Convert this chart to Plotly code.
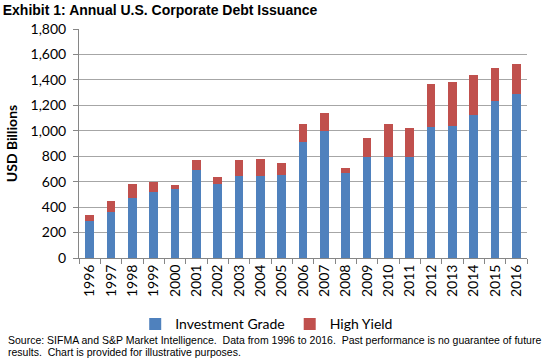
import plotly.graph_objects as go

years = [str(y) for y in range(1996, 2017)]
investment_grade = [290, 360, 473, 520, 541, 693, 578, 641, 643, 649, 911, 995,
                    670, 796, 796, 796, 1029, 1040, 1127, 1232, 1290]
high_yield = [45, 91, 112, 76, 29, 76, 57, 128, 132, 97, 145, 145,
              39, 144, 254, 225, 342, 341, 312, 260, 238]
y_ticks = [0, 200, 400, 600, 800, 1000, 1200, 1400, 1600, 1800]
y_tick_text = ["0", "200", "400", "600", "800", "1,000", "1,200", "1,400", "1,600", "1,800"]

BLUE = "#4F81BD"
RED = "#C0504D"
FONT = "Lato, 'Open Sans', sans-serif"
ARIAL = "'Liberation Sans', Arial, sans-serif"

fig = go.Figure()
fig.add_trace(go.Bar(x=years, y=investment_grade, name="Investment Grade",
                     marker=dict(color=BLUE, line=dict(width=0))))
fig.add_trace(go.Bar(x=years, y=high_yield, name="High Yield",
                     marker=dict(color=RED, line=dict(width=0))))

fig.update_layout(
    width=551, height=364,
    barmode="stack", bargap=0.6,
    paper_bgcolor="white", plot_bgcolor="white",
    margin=dict(l=77, r=24, t=29, b=106),
    font=dict(family=FONT, size=14, color="#000000"),
    title=dict(text="<b>Exhibit 1: Annual U.S. Corporate Debt Issuance</b>",
               x=0.005, xanchor="left", xref="container",
               y=0.972, yanchor="middle", yref="container",
               font=dict(family=ARIAL, size=14, color="#000")),
    showlegend=True,
    legend=dict(orientation="h", x=0.419, xanchor="center", y=-0.29, yanchor="middle",
                font=dict(family=FONT, size=14), itemsizing="constant",
                bgcolor="rgba(0,0,0,0)", traceorder="normal", itemwidth=30),
    xaxis=dict(type="category", tickangle=-90, ticks="outside", tickson="boundaries",
               ticklen=5, tickcolor="#868686", showline=True, linecolor="#868686",
               linewidth=1, showgrid=False, tickfont=dict(family=FONT, size=14)),
    yaxis=dict(range=[0, 1800], tickvals=y_ticks, ticktext=y_tick_text,
               ticks="outside", ticklen=5, tickcolor="#868686", ticklabelstandoff=4,
               showline=True, linecolor="#868686", linewidth=1,
               showgrid=True, gridcolor="#a6a6a6", gridwidth=1, zeroline=False,
               tickfont=dict(family=FONT, size=14),
               title=dict(text="<b>USD Billions</b>", standoff=9,
                          font=dict(family=FONT, size=14))),
    annotations=[
        dict(text="Source: SIFMA and S&P Market Intelligence.  Data from 1996 to 2016.  Past performance is no guarantee of future",
             xref="paper", yref="paper", x=-0.164, y=-0.359, xanchor="left", yanchor="middle",
             align="left", showarrow=False,
             font=dict(family=ARIAL, size=10.5, color="#000")),
        dict(text="results.  Chart is provided for illustrative purposes.",
             xref="paper", yref="paper", x=-0.164, y=-0.409, xanchor="left", yanchor="middle",
             align="left", showarrow=False,
             font=dict(family=ARIAL, size=10.5, color="#000")),
    ],
)

fig.write_html("out.html", config={"displayModeBar": False},
               post_script="document.body.style.margin='0';")
